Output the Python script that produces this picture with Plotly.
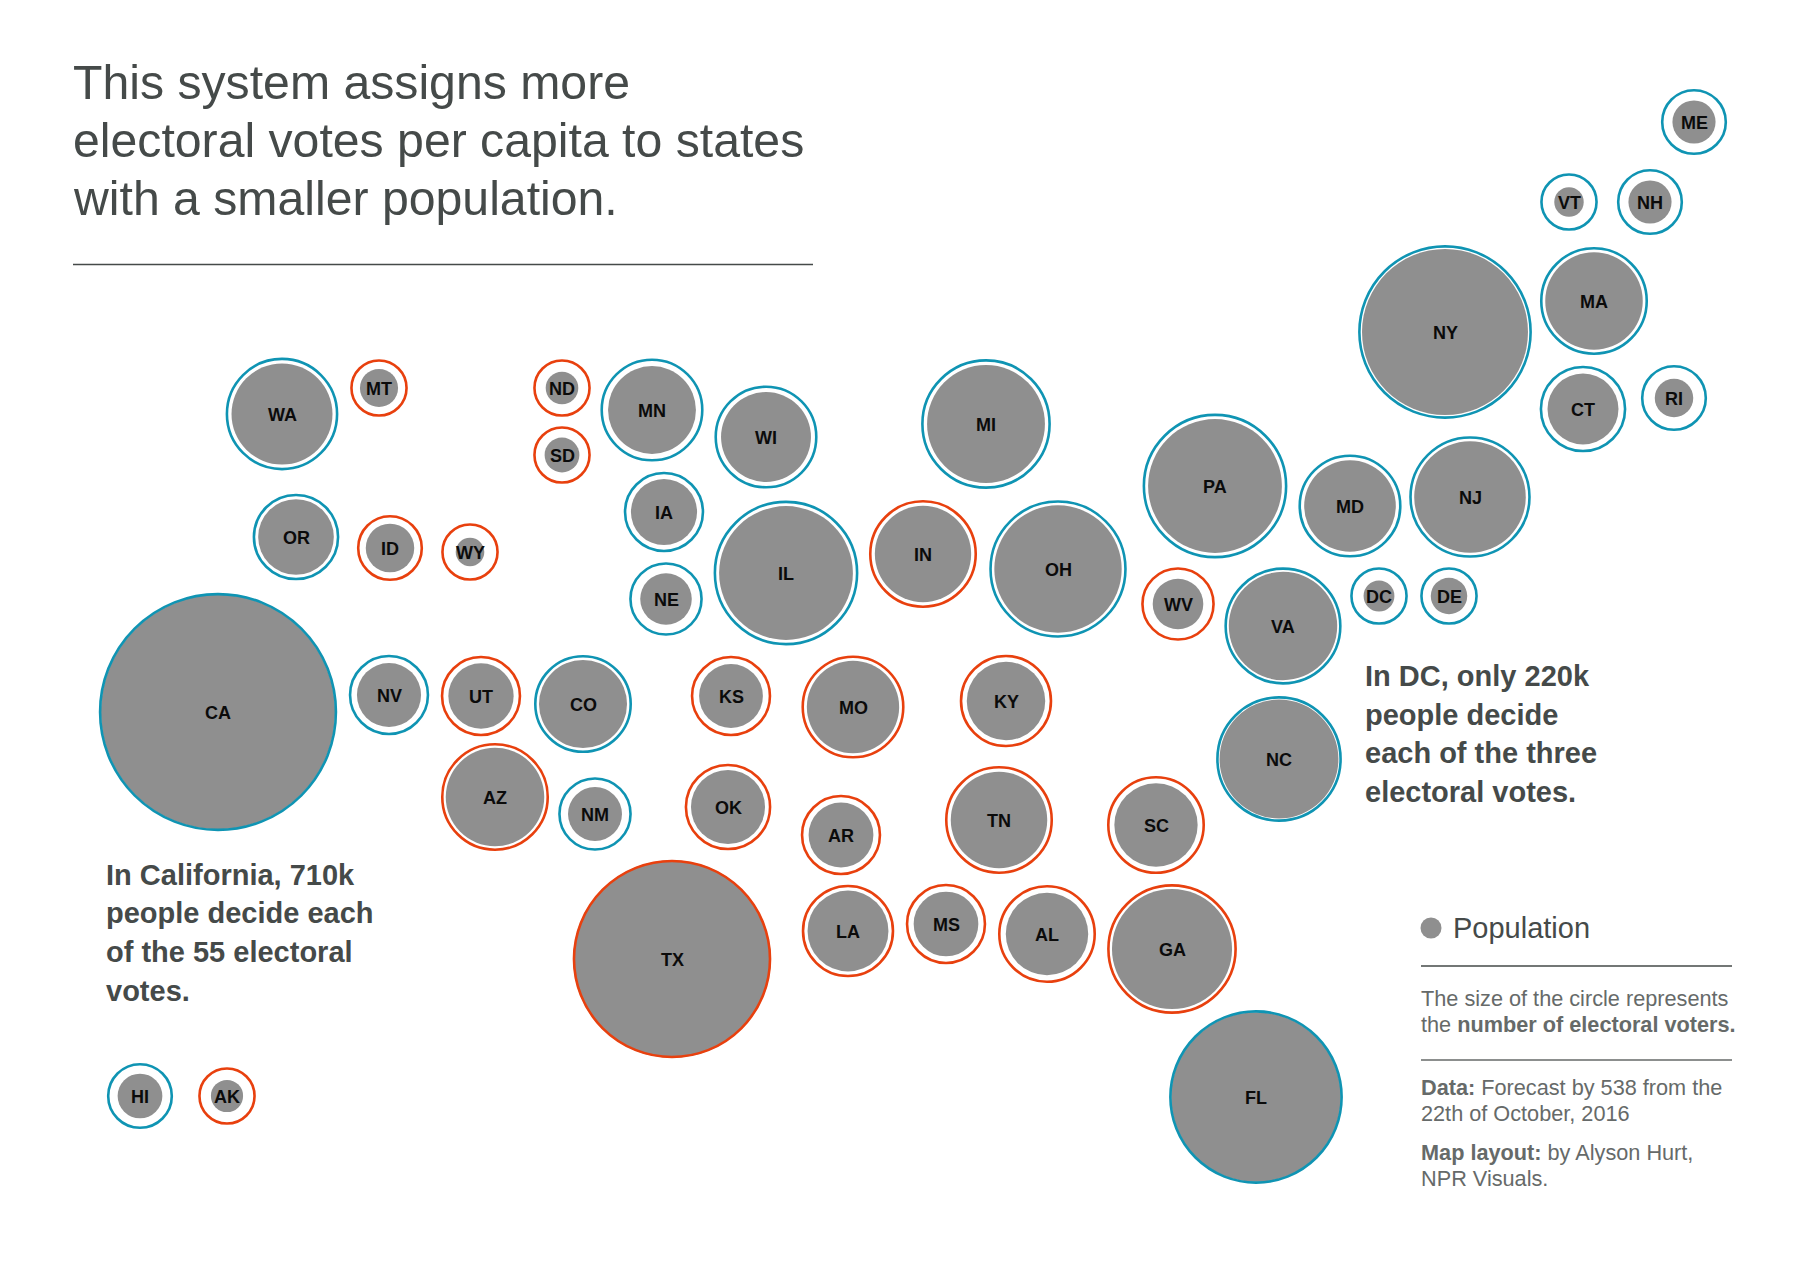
import plotly.graph_objects as go

states = ["ME","VT","NH","NY","MA","CT","RI","NJ","MD","PA","DC","DE","VA","WV","NC","SC","GA","FL",
          "OH","KY","TN","AL","MS","LA","AR","MO","IL","IN","MI","WI","MN","IA","NE","KS","OK","TX",
          "NM","AZ","CO","UT","NV","CA","OR","ID","WY","MT","ND","SD","WA","HI","AK"]
map_x = [1694,1569,1650,1445,1594,1583,1674,1470,1350,1215,1379,1449,1283,1178,1279,1156,1172,1256,
         1058,1006,999,1047,946,848,841,853,786,923,986,766,652,664,666,731,728,672,
         595,495,583,481,389,218,296,390,470,379,562,562,282,140,227]
map_y = [122,202,202,332,301,409,398,497,506,486,596,596,626,604,759,825,949,1097,
         569,701,820,934,924,931,835,707,573,554,424,437,410,512,599,696,807,959,
         814,797,704,696,695,712,537,548,552,388,388,455,414,1096,1096]
electoral_votes = [4,3,4,29,11,7,4,14,10,20,3,3,13,5,15,9,16,29,
                   18,8,11,9,6,8,6,10,20,11,16,10,10,6,5,6,7,38,
                   5,11,9,6,6,55,7,4,3,3,3,3,12,4,3]
population_m = [1.33,0.62,1.33,19.7,6.8,3.6,1.06,8.9,6.0,12.8,0.68,0.95,8.4,1.83,10.1,4.96,10.3,20.6,
                11.6,4.4,6.65,4.86,2.99,4.68,3.0,6.09,12.8,6.63,9.93,5.78,5.52,3.13,1.9,2.91,3.92,27.9,
                2.08,6.93,5.54,3.05,2.94,39.25,4.09,1.68,0.585,1.04,0.76,0.865,7.29,1.43,0.74]
leaning = ["D","D","D","D","D","D","D","D","D","D","D","D","D","R","D","R","R","D",
           "D","R","R","R","R","R","R","R","D","R","D","D","D","D","D","R","R","R",
           "D","R","D","R","D","D","D","R","R","R","R","R","D","D","R"]

BLUE, RED, GRAY = "#0f94b3", "#e8400e", "#8f8f8f"
DARK, MID = "#454a49", "#666a69"
SANS = "Liberation Sans, Arial, sans-serif"

fig = go.Figure()
k_votes, k_pop = 31.8, 37.4
fig.add_trace(go.Scatter(x=map_x, y=map_y, mode="markers", hoverinfo="skip", showlegend=False,
    marker=dict(size=population_m, sizemode="area", sizeref=2 / k_pop**2, color=GRAY, opacity=1, line=dict(width=0))))
fig.add_trace(go.Scatter(x=map_x, y=map_y, mode="markers", hoverinfo="skip", showlegend=False,
    marker=dict(size=electoral_votes, sizemode="area", sizeref=2 / k_votes**2, color="rgba(0,0,0,0)", opacity=1,
                line=dict(width=2.6, color=[BLUE if p == "D" else RED for p in leaning]))))
fig.add_trace(go.Scatter(x=[1431], y=[928], mode="markers", hoverinfo="skip", showlegend=False,
    marker=dict(size=21, color=GRAY, opacity=1, line=dict(width=0))))
for sx, sy, st in zip(map_x, map_y, states):
    fig.add_annotation(x=sx, y=sy, xref="x", yref="y", text=f"<b>{st}</b>", showarrow=False, yshift=-0.5,
                       xanchor="center", yanchor="middle", font=dict(family=SANS, size=18, color="#0b0b0b"))

def txt(x, y, s, size, color, bold=False):
    fig.add_annotation(x=x, y=y, xref="x", yref="y", text=f"<b>{s}</b>" if bold else s, showarrow=False,
                       xanchor="left", yanchor="middle", align="left",
                       borderpad=0, font=dict(family=SANS, size=size, color=color))

title_lines = ["This system assigns more", "electoral votes per capita to states", "with a smaller population."]
for i, s in enumerate(title_lines):
    txt(72, 82 + i * 58, s, 48.2, DARK)
for i, s in enumerate(["In California, 710k", "people decide each", "of the 55 electoral", "votes."]):
    txt(105, 874.5 + i * 38.7, s, 29, DARK, True)
for i, s in enumerate(["In DC, only 220k", "people decide", "each of the three", "electoral votes."]):
    txt(1364, 676 + i * 38.7, s, 29, DARK, True)
txt(1452, 928, "Population", 29, DARK)
txt(1420, 998, "The size of the circle represents", 21.7, MID)
txt(1420, 1024, "the <b>number of electoral voters.</b>", 21.7, MID)
txt(1420, 1087, "<b>Data:</b> Forecast by 538 from the", 21.7, MID)
txt(1420, 1113, "22th of October, 2016", 21.7, MID)
txt(1420, 1152, "<b>Map layout:</b> by Alyson Hurt,", 21.7, MID)
txt(1420, 1178, "NPR Visuals.", 21.7, MID)

for x0, x1, y, c in [(73, 813, 264.5, DARK), (1421, 1732, 966, DARK), (1421, 1732, 1060, MID)]:
    fig.add_shape(type="line", xref="x", yref="y", x0=x0, x1=x1, y0=y, y1=y, line=dict(color=c, width=1.5))

fig.update_xaxes(range=[0, 1800], visible=False, fixedrange=True)
fig.update_yaxes(range=[1274, 0], visible=False, fixedrange=True)
fig.update_layout(width=1800, height=1274, margin=dict(l=0, r=0, t=0, b=0),
                  paper_bgcolor="white", plot_bgcolor="white", showlegend=False)
fig.write_html("out.html", post_script="document.body.style.margin='0';document.body.style.overflow='hidden';",
               config={"displayModeBar": False})
